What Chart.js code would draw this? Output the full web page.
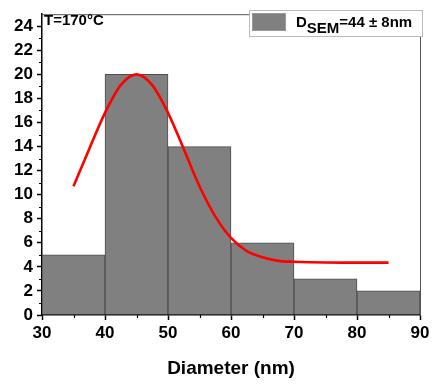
<!DOCTYPE html>
<html>
<head>
<meta charset="utf-8">
<script src="https://cdn.jsdelivr.net/npm/chart.js@4.4.1/dist/chart.umd.min.js"></script>
<style>
  html, body { margin: 0; padding: 0; background: #fff; }
  #wrap { width: 442px; height: 392px; }
</style>
</head>
<body>
<div id="wrap"><canvas id="myChart" width="442" height="392"></canvas></div>
<script>
   // histogram bins (centres) and counts
   const binCentres = [35, 45, 55, 65, 75, 85];
   const counts = [5, 20, 14, 6, 3, 2];

   // fitted curve
   const fitX = [35, 37.5, 40, 42.5, 45, 47.5, 50, 52.5, 55, 57.5, 60, 62.5, 65, 67.5, 70, 72.5, 75, 77.5, 80, 82.5, 85];
   const fitY = [10.7, 13.8, 16.8, 19.1, 20.0, 19.1, 16.8, 13.8, 10.7, 8.2, 6.4, 5.3, 4.8, 4.5, 4.42, 4.38, 4.36, 4.35, 4.35, 4.35, 4.35];

   const xTicks = [30, 40, 50, 60, 70, 80, 90];
   const yTicks = [0, 2, 4, 6, 8, 10, 12, 14, 16, 18, 20, 22, 24];

   const FONT = 'Liberation Sans, Arial, sans-serif';

   const decor = {
       id: 'decor',
       afterDraw(chart) {
           const ctx = chart.ctx;
           const a = chart.chartArea;
           const xs = chart.scales.x, ys = chart.scales.y;
           ctx.save();
           // minor ticks
           ctx.strokeStyle = '#000';
           ctx.lineWidth = 1.2;
           ctx.beginPath();
           for (let v = 1; v < 25; v += 2) {
               const py = Math.round(ys.getPixelForValue(v)) + 0.5;
               ctx.moveTo(a.left, py);
               ctx.lineTo(a.left - 3, py);
           }
           for (let v = 35; v < 90; v += 10) {
               const px = Math.round(xs.getPixelForValue(v)) + 0.5;
               ctx.moveTo(px, a.bottom);
               ctx.lineTo(px, a.bottom + 3);
           }
           ctx.stroke();
           // frame top / right
           ctx.strokeStyle = '#555';
           ctx.lineWidth = 1;
           ctx.beginPath();
           ctx.moveTo(a.left, a.top + 0.5);
           ctx.lineTo(a.right + 0.5, a.top + 0.5);
           ctx.lineTo(a.right + 0.5, a.bottom);
           ctx.stroke();
           // legend
           ctx.fillStyle = '#fff';
           ctx.fillRect(249, 10, 173, 26);
           ctx.strokeStyle = '#bbb';
           ctx.strokeRect(249.5, 10.5, 173, 26);
           ctx.fillStyle = '#808080';
           ctx.fillRect(252, 13, 34, 18);
           ctx.strokeStyle = '#999';
           ctx.strokeRect(252.5, 13.5, 33, 17);
           ctx.fillStyle = '#000';
           ctx.textBaseline = 'alphabetic';
           ctx.textAlign = 'left';
           let tx = 296;
           ctx.font = 'bold 15px ' + FONT;
           ctx.fillText('D', tx, 27);
           tx += ctx.measureText('D').width;
           ctx.font = 'bold 15px ' + FONT;
           ctx.fillText('SEM', tx, 33);
           tx += ctx.measureText('SEM').width;
           ctx.font = 'bold 15px ' + FONT;
           ctx.fillText('=44 \u00b1 8nm', tx, 27);
           // temperature label
           ctx.font = 'bold 15px ' + FONT;
           ctx.fillText('T=170\u00b0C', 44, 25);
           ctx.restore();
       }
   };

   const chartData = {
       datasets: [{
           type: 'line',
           data: fitX.map((x, i) => ({ x: x, y: fitY[i] })),
           borderColor: 'rgb(255, 0, 0)',
           borderWidth: 2.6,
           pointRadius: 0,
           tension: 0.4,
           cubicInterpolationMode: 'monotone',
           fill: false,
           order: 0
       }, {
           type: 'bar',
           data: binCentres.map((x, i) => ({ x: x, y: counts[i] })),
           backgroundColor: '#808080',
           borderColor: '#4d4d4d',
           borderWidth: 1,
           barPercentage: 1,
           categoryPercentage: 1,
           order: 1
       }]
   };

   const config = {
       data: chartData,
       options: {
           animation: false,
           responsive: false,
           layout: { padding: { top: 10, right: 22, left: 0, bottom: 0 } },
           plugins: {
               legend: { display: false },
               tooltip: { enabled: false }
           },
           scales: {
               x: {
                   type: 'linear',
                   min: 30,
                   max: 90,
                   offset: false,
                   afterBuildTicks: s => { s.ticks = xTicks.map(v => ({ value: v })); },
                   afterFit: s => { s.height = 77; },
                   border: { color: '#000', width: 1.5 },
                   grid: { offset: false, drawOnChartArea: false, tickLength: 5, tickColor: '#000', tickWidth: 1.5 },
                   ticks: { color: '#000', padding: 3, maxRotation: 0, font: { family: FONT, size: 17, weight: 'bold' } },
                   title: {
                       display: true,
                       text: 'Diameter (nm)',
                       color: '#000',
                       padding: { top: 10, bottom: 12 },
                       font: { family: FONT, size: 19, weight: 'bold' }
                   }
               },
               y: {
                   min: 0,
                   max: 25,
                   afterBuildTicks: s => { s.ticks = yTicks.map(v => ({ value: v })); },
                   afterFit: s => { s.width = 42; },
                   border: { color: '#000', width: 1.5 },
                   grid: { drawOnChartArea: false, tickLength: 5, tickColor: '#000', tickWidth: 1.5 },
                   ticks: { color: '#000', padding: 4, font: { family: FONT, size: 17, weight: 'bold' } }
               }
           }
       },
       plugins: [decor]
   };

   new Chart(document.getElementById('myChart'), config);
</script>
</body>
</html>
